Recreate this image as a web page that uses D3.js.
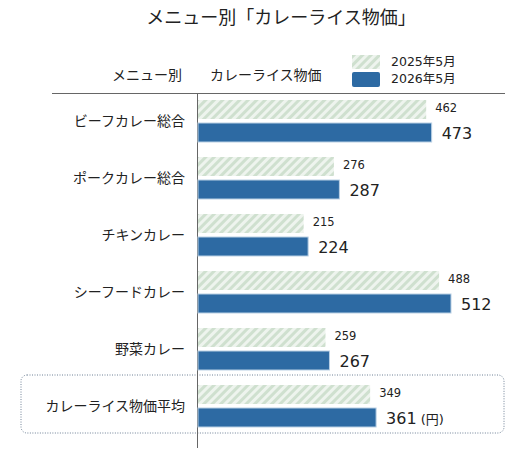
<!DOCTYPE html>
<html>
<head>
<meta charset="utf-8">
<script src="https://cdn.jsdelivr.net/npm/d3@7"></script>
<style>
  body { margin: 0; background: #fff; }
  svg { display: block; font-family: "Noto Sans CJK JP", "Noto Sans", sans-serif; }
  .num { font-family: "DejaVu Sans", "Noto Sans CJK JP", sans-serif; }
</style>
</head>
<body>
<div class="container"></div>
<script>
// menu categories and prices (yen)
const menus = ["ビーフカレー総合", "ポークカレー総合", "チキンカレー", "シーフードカレー", "野菜カレー", "カレーライス物価平均"];
const price2025 = [462, 276, 215, 488, 259, 349];
const price2026 = [473, 287, 224, 512, 267, 361];
const seriesNames = ["2025年5月", "2026年5月"];

const width = 519, height = 472;

const svg = d3.select(".container")
    .append("svg")
    .attr("width", width)
    .attr("height", height);

// hatch pattern for the 2025 bars
const defs = svg.append("defs");
const hatch = defs.append("pattern")
    .attr("id", "hatch")
    .attr("patternUnits", "userSpaceOnUse")
    .attr("width", 6)
    .attr("height", 6)
    .attr("patternTransform", "rotate(45)");
hatch.append("rect")
    .attr("width", 6).attr("height", 6)
    .attr("fill", "#eef4ee");
hatch.append("rect")
    .attr("width", 3).attr("height", 6)
    .attr("fill", "#cfe0cf");

// title
svg.append("text")
    .attr("x", 281)
    .attr("y", 24)
    .attr("text-anchor", "middle")
    .attr("font-size", 18)
    .attr("fill", "#222")
    .text("メニュー別「カレーライス物価」");

// column headers
svg.append("text")
    .attr("x", 182).attr("y", 80)
    .attr("text-anchor", "end")
    .attr("font-size", 14)
    .attr("fill", "#222")
    .text("メニュー別");

svg.append("text")
    .attr("x", 210).attr("y", 80)
    .attr("font-size", 14)
    .attr("fill", "#222")
    .text("カレーライス物価");

// legend
const legend = svg.append("g").attr("transform", "translate(352, 55)");
legend.append("rect")
    .attr("width", 28).attr("height", 14)
    .attr("fill", "url(#hatch)");
legend.append("rect")
    .attr("y", 17)
    .attr("width", 28).attr("height", 15)
    .attr("rx", 2)
    .attr("fill", "#2d6aa3");
legend.selectAll("text.leg")
    .data(seriesNames)
    .enter()
    .append("text")
    .attr("class", "leg num")
    .attr("x", 39)
    .attr("y", (d, i) => 11 + i * 17)
    .attr("font-size", 12.5)
    .attr("fill", "#222")
    .text(d => d);

// scales
const x = d3.scaleLinear()
    .domain([0, 512])
    .range([197, 451]);

const y = d3.scaleBand()
    .domain(menus)
    .range([100, 442])
    .paddingInner(0);

const barH = 19;
const gap = 4;

// highlight box for the average row
const avgTop = y(menus[5]);
svg.append("rect")
    .attr("x", 21)
    .attr("y", avgTop - 10)
    .attr("width", 483)
    .attr("height", 58)
    .attr("rx", 6)
    .attr("fill", "none")
    .attr("stroke", "#6f8196")
    .attr("stroke-width", 1)
    .attr("stroke-dasharray", "1,1.5");

// header rule and axis line
svg.append("line")
    .attr("x1", 52).attr("x2", 505)
    .attr("y1", 93.5).attr("y2", 93.5)
    .attr("stroke", "#666");

svg.append("line")
    .attr("x1", 197.5).attr("x2", 197.5)
    .attr("y1", 94).attr("y2", 448)
    .attr("stroke", "#666");

const rows = svg.selectAll("g.row")
    .data(menus)
    .enter()
    .append("g")
    .attr("class", "row")
    .attr("transform", d => `translate(0, ${y(d)})`);

// category labels
rows.append("text")
    .attr("x", 185)
    .attr("y", barH + gap / 2)
    .attr("dy", "0.35em")
    .attr("text-anchor", "end")
    .attr("font-size", 14)
    .attr("fill", "#222")
    .text(d => d);

// 2025 bars
rows.append("rect")
    .attr("x", x(0) + 1)
    .attr("y", 0)
    .attr("width", (d, i) => x(price2025[i]) - x(0) - 1)
    .attr("height", barH)
    .attr("fill", "url(#hatch)");

// 2026 bars
rows.append("rect")
    .attr("x", x(0) + 1)
    .attr("y", barH + gap)
    .attr("width", (d, i) => x(price2026[i]) - x(0) - 1)
    .attr("height", barH)
    .attr("fill", "#2d6aa3")
    .attr("stroke", "#b9d0e4")
    .attr("stroke-width", 1);

// value labels
rows.append("text")
    .attr("class", "num")
    .attr("x", (d, i) => x(price2025[i]) + 9)
    .attr("y", 8)
    .attr("dy", "0.35em")
    .attr("font-size", 11.5)
    .attr("fill", "#222")
    .text((d, i) => price2025[i]);

rows.append("text")
    .attr("class", "num")
    .attr("x", (d, i) => x(price2026[i]) + 10)
    .attr("y", barH + gap + 10)
    .attr("dy", "0.35em")
    .attr("font-size", 16)
    .attr("fill", "#222")
    .text((d, i) => price2026[i])
    .filter((d, i) => i === menus.length - 1)
    .append("tspan")
    .attr("font-size", 13)
    .attr("dx", 4)
    .text("(円)");
</script>
</body>
</html>
